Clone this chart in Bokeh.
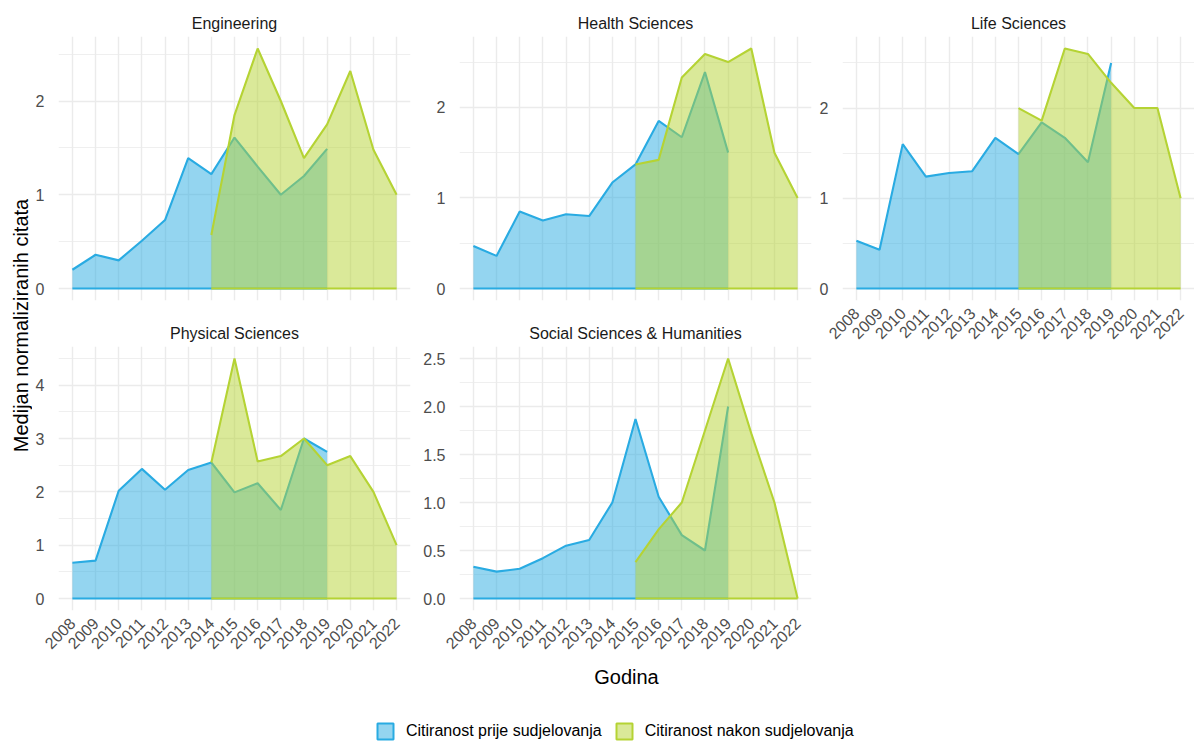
from math import pi
from bokeh.plotting import figure
from bokeh.layouts import row, column
from bokeh.models import (ColumnDataSource, Range1d, FixedTicker, Label, Legend,
                          LegendItem, NumeralTickFormatter, Title)
from bokeh.embed import file_html
from bokeh.resources import INLINE

# ---------------- data ----------------
years_all = [2008, 2009, 2010, 2011, 2012, 2013, 2014, 2015, 2016, 2017, 2018, 2019, 2020, 2021, 2022]
years_before = [2008, 2009, 2010, 2011, 2012, 2013, 2014, 2015, 2016, 2017, 2018, 2019]
years_after_14 = [2014, 2015, 2016, 2017, 2018, 2019, 2020, 2021, 2022]
years_after_15 = [2015, 2016, 2017, 2018, 2019, 2020, 2021, 2022]

eng_before = [0.20, 0.36, 0.30, 0.51, 0.73, 1.39, 1.22, 1.61, 1.30, 1.00, 1.20, 1.49]
eng_after = [0.57, 1.85, 2.56, 2.00, 1.39, 1.75, 2.32, 1.48, 1.00]

hea_before = [0.47, 0.36, 0.85, 0.75, 0.82, 0.80, 1.17, 1.37, 1.85, 1.67, 2.39, 1.50]
hea_after = [1.37, 1.42, 2.33, 2.59, 2.50, 2.65, 1.50, 1.00]

lif_before = [0.53, 0.43, 1.60, 1.24, 1.28, 1.30, 1.67, 1.49, 1.84, 1.67, 1.40, 2.50]
lif_after = [2.00, 1.86, 2.66, 2.60, 2.28, 2.00, 2.00, 1.00]

phy_before = [0.67, 0.71, 2.02, 2.43, 2.04, 2.41, 2.55, 1.99, 2.16, 1.66, 3.00, 2.75]
phy_after = [2.55, 4.50, 2.57, 2.67, 3.00, 2.50, 2.67, 2.00, 1.00]

soc_before = [0.33, 0.28, 0.31, 0.42, 0.55, 0.61, 1.00, 1.87, 1.06, 0.66, 0.50, 2.00]
soc_after = [0.38, 0.72, 1.00, 1.75, 2.50, 1.72, 1.00, 0.00]

ticks_int3 = [0, 1, 2]
minor_int3 = [0.5, 1.5, 2.5]
ticks_phy = [0, 1, 2, 3, 4]
minor_phy = [0.5, 1.5, 2.5, 3.5, 4.5]
ticks_soc = [0.0, 0.5, 1.0, 1.5, 2.0, 2.5]
minor_soc = [0.25, 0.75, 1.25, 1.75, 2.25, 2.75]

label_before = "Citiranost prije sudjelovanja"
label_after = "Citiranost nakon sudjelovanja"
x_title = "Godina"
y_title = "Medijan normaliziranih citata"

# ---------------- style ----------------
FONT = "Liberation Sans"
BLUE = "#29ABE2"
GREEN = "#B5D334"
GRID = "#EBEBEB"
TICK_COL = "#4D4D4D"


def series(p, xs, ys, color):
    src = ColumnDataSource(dict(x=xs, y=ys, z=[0] * len(xs)))
    p.varea(x="x", y1="z", y2="y", source=src, fill_color=color, fill_alpha=0.5)
    p.line(x="x", y="y", source=src, line_color=color, line_width=2.1)
    p.line(x="x", y="z", source=src, line_color=color, line_width=2.1)


def panel(name, before, after_years, after, width, height, bl, br, bt, bb,
          show_x, ticks, minor, fmt):
    m = max(max(before), max(after))
    p = figure(width=width, height=height, output_backend="svg", toolbar_location=None,
               x_range=Range1d(2007.4, 2022.6), y_range=Range1d(-0.05 * m, 1.05 * m),
               min_border_left=bl, min_border_right=br, min_border_top=bt,
               min_border_bottom=bb)
    p.title = Title(text=name, align="center", text_font=FONT, text_font_size="16px",
                    text_font_style="normal", text_color="#1A1A1A", standoff=9)
    p.outline_line_color = None
    p.background_fill_color = "white"
    p.border_fill_color = "white"
    series(p, years_before, before, BLUE)
    series(p, after_years, after, GREEN)

    p.xaxis.ticker = FixedTicker(ticks=years_all)
    p.yaxis.ticker = FixedTicker(ticks=ticks, minor_ticks=minor)
    p.yaxis.formatter = NumeralTickFormatter(format=fmt)
    for ax in p.xaxis + p.yaxis:
        ax.axis_line_color = None
        ax.major_tick_line_color = None
        ax.minor_tick_line_color = None
        ax.major_tick_out = 0
        ax.major_tick_in = 0
        ax.major_label_text_font = FONT
        ax.major_label_text_font_size = "16px"
        ax.major_label_text_color = TICK_COL
    p.yaxis.major_label_standoff = 10
    p.xaxis.major_label_orientation = pi / 4
    p.xaxis.major_label_standoff = 10
    p.xaxis.visible = show_x
    p.xgrid.grid_line_color = GRID
    p.xgrid.grid_line_width = 1.4
    p.ygrid.grid_line_color = GRID
    p.ygrid.grid_line_width = 1.4
    p.ygrid.minor_grid_line_color = GRID
    p.ygrid.minor_grid_line_width = 0.8
    return p


p1 = panel("Engineering", eng_before, years_after_14, eng_after, 388, 310, 22, 10, 36, 10,
           False, ticks_int3, minor_int3, "0")
p4 = panel("Physical Sciences", phy_before, years_after_14, phy_after, 388, 350, 22, 10, 36, 50,
           True, ticks_phy, minor_phy, "0")
p2 = panel("Health Sciences", hea_before, years_after_15, hea_after, 396, 310, 35, 5, 36, 10,
           False, ticks_int3, minor_int3, "0")
p5 = panel("Social Sciences & Humanities", soc_before, years_after_15, soc_after, 396, 350,
           35, 5, 36, 50, True, ticks_soc, minor_soc, "0.0")
p3 = panel("Life Sciences", lif_before, years_after_15, lif_after, 378, 360, 23, 0, 36, 60,
           True, ticks_int3, minor_int3, "0")

# y-axis title
ylab = figure(width=32, height=742, output_backend="svg", toolbar_location=None,
              x_range=Range1d(0, 1), y_range=Range1d(0, 1), min_border=0,
              x_axis_location=None, y_axis_location=None)
ylab.outline_line_color = None
ylab.grid.visible = False
ylab.add_layout(Label(x=20, y=417, x_units="screen", y_units="screen", text=y_title,
                      angle=pi / 2, text_align="center", text_baseline="middle",
                      text_font=FONT, text_font_size="20px", text_color="black"))

# bottom: x title + legend
bot = figure(width=1162, height=82, output_backend="svg", toolbar_location=None,
             x_range=Range1d(0, 1), y_range=Range1d(0, 1), min_border=0,
             x_axis_location=None, y_axis_location=None)
bot.outline_line_color = None
bot.grid.visible = False
bot.add_layout(Label(x=594, y=66, x_units="screen", y_units="screen", text=x_title,
                     text_align="center", text_baseline="middle",
                     text_font=FONT, text_font_size="20px", text_color="black"))
nan = float("nan")
key_b = ColumnDataSource(dict(l=[nan], r=[nan], t=[nan], b=[nan]))
key_a = ColumnDataSource(dict(l=[nan], r=[nan], t=[nan], b=[nan]))
rb = bot.quad(left="l", right="r", top="t", bottom="b", source=key_b,
              fill_color=BLUE, fill_alpha=0.5, line_color=BLUE, line_width=2)
ra = bot.quad(left="l", right="r", top="t", bottom="b", source=key_a,
              fill_color=GREEN, fill_alpha=0.5, line_color=GREEN, line_width=2)
legend = Legend(items=[LegendItem(label=label_before, renderers=[rb]),
                       LegendItem(label=label_after, renderers=[ra])],
                location=(343, 1), orientation="horizontal",
                glyph_width=20, glyph_height=20, label_standoff=11, spacing=12,
                padding=0, margin=0, border_line_color=None, background_fill_alpha=0,
                label_text_font=FONT, label_text_font_size="16px",
                label_text_color="black")
bot.add_layout(legend, "center")

layout = row(ylab, column(row(column(p1, p4), column(p2, p5), column(p3)), bot))

open("out.html", "w").write(file_html(layout, INLINE))
